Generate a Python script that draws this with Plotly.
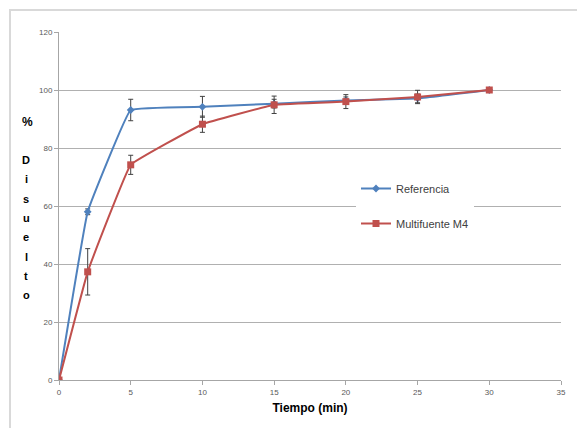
import plotly.graph_objects as go

tiempo = [0, 2, 5, 10, 15, 20, 25, 30]
referencia = [0, 58.0, 93.1, 94.2, 95.3, 96.4, 97.1, 100]
referencia_err = [0, 1.0, 3.7, 3.6, 1.5, 1.2, 1.5, 0]
multifuente = [0, 37.3, 74.2, 88.2, 94.9, 96.0, 97.6, 100]
multifuente_err = [0, 8.0, 3.3, 2.8, 3.0, 2.4, 2.3, 0]

x_ticks = [0, 5, 10, 15, 20, 25, 30, 35]
y_ticks = [0, 20, 40, 60, 80, 100, 120]

BLUE = "#4F81BD"
RED = "#C0504D"
TICKFONT = dict(family="Liberation Sans, Arial, sans-serif", size=8, color="#595959")

fig = go.Figure()
fig.add_trace(go.Scatter(
    x=tiempo, y=referencia, name="Referencia", mode="lines+markers",
    line=dict(color=BLUE, width=2, shape="spline", smoothing=0.2),
    marker=dict(symbol="diamond", size=6, color=BLUE),
    error_y=dict(type="data", array=referencia_err, color="#404040", thickness=1, width=2.5),
    legendgroup="a",
))
fig.add_trace(go.Scatter(
    x=tiempo, y=multifuente, name="Multifuente M4", mode="lines+markers",
    line=dict(color=RED, width=2, shape="spline", smoothing=0.2),
    marker=dict(symbol="square", size=7, color=RED),
    error_y=dict(type="data", array=multifuente_err, color="#404040", thickness=1, width=2.5),
    legendgroup="b",
))

# page has an 8px body margin; work in page pixels and convert
OFF = 8
PW, PH = 585, 428
W, H = PW - OFF, PH - OFF
PL, PR, PT, PB = 59, 561, 32, 380   # plot area in page pixels
L, T = PL - OFF, PT - OFF
R = W - (PR - OFF)
B = H - (PB - OFF)
pw, ph = PR - PL, PB - PT

def px_x(p):
    return (p - PL) / pw

def px_y(p):
    return (PB - p) / ph

fig.update_layout(
    width=W, height=H,
    margin=dict(l=L, r=R, t=T, b=B, autoexpand=False),
    paper_bgcolor="white", plot_bgcolor="white",
    showlegend=True,
    legend=dict(
        x=px_x(356), y=px_y(174), xanchor="left", yanchor="top",
        bgcolor="white", traceorder="grouped", tracegroupgap=16,
        font=dict(family="Liberation Sans, Arial, sans-serif", size=11, color="#404040"),
        itemwidth=30,
    ),
    xaxis=dict(
        range=[0, 35], tickvals=x_ticks, showgrid=False, zeroline=False,
        showline=True, linecolor="#a6a6a6", linewidth=1,
        ticks="outside", ticklen=4, tickcolor="#a6a6a6", tickfont=TICKFONT,
        title=dict(text="<b>Tiempo (min)</b>", standoff=8,
                   font=dict(family="Liberation Sans, Arial, sans-serif", size=12, color="#000000")),
    ),
    yaxis=dict(
        range=[0, 120], tickvals=y_ticks, showgrid=True, gridcolor="#b0b0b0", gridwidth=1,
        zeroline=False, showline=True, linecolor="#a6a6a6", linewidth=1,
        ticks="outside", ticklen=4, tickcolor="#a6a6a6", tickfont=TICKFONT,
    ),
    shapes=[dict(
        type="rect", xref="paper", yref="paper",
        x0=px_x(10), x1=px_x(600), y0=px_y(450), y1=px_y(10),
        line=dict(color="#d9d9d9", width=2), fillcolor="rgba(0,0,0,0)", layer="below",
    )],
)

fig.add_annotation(
    xref="paper", yref="paper", x=px_x(27), y=px_y(122), text="<b>%</b>",
    xanchor="center", yanchor="middle",
    showarrow=False, font=dict(family="Liberation Sans, Arial, sans-serif", size=12, color="#000"),
)
letters = "Disuelto"
for i, ch in enumerate(letters):
    fig.add_annotation(
        xref="paper", yref="paper", x=px_x(26), y=px_y(160 + i * 19.3), text="<b>" + ch + "</b>",
        xanchor="center", yanchor="middle",
        showarrow=False, font=dict(family="Liberation Sans, Arial, sans-serif", size=11, color="#000"),
    )

fig.write_html("out.html")
